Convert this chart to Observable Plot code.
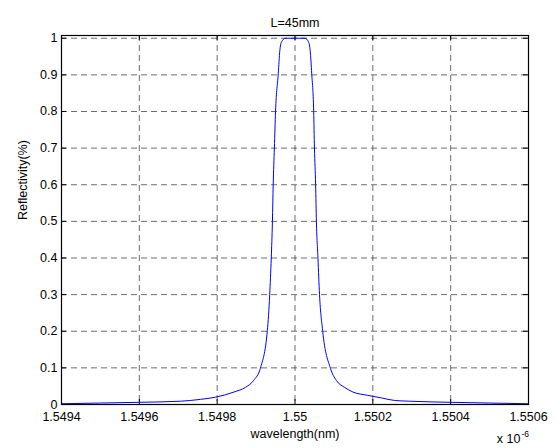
<!DOCTYPE html>
<html>
<head>
<meta charset="utf-8">
<script src="https://cdn.jsdelivr.net/npm/d3@7"></script>
<script src="https://cdn.jsdelivr.net/npm/@observablehq/plot@0.6"></script>
<style>
  html, body { margin: 0; padding: 0; background: #fff; }
  #chart svg { display: block; }
</style>
</head>
<body>
<div id="chart"></div>
<script>
// wavelength in units of 1e-6 m
const wavelength = [
  1.5494, 1.5495, 1.5496, 1.549706, 1.549757, 1.549796, 1.549843,
  1.549873, 1.549894, 1.549911, 1.549929, 1.549935, 1.549939, 1.549942,
  1.549944, 1.549947, 1.54995, 1.549957, 1.549961, 1.549965, 1.549975,
  1.55,
  1.550026, 1.550035, 1.550039, 1.550043, 1.550048, 1.55005, 1.550053,
  1.550055, 1.550059, 1.550063, 1.550071, 1.550091, 1.550106, 1.550127,
  1.550149, 1.550187, 1.550222, 1.550256, 1.550294, 1.5504, 1.5505, 1.5506
];
const reflectivity = [
  0.002, 0.004, 0.006, 0.009, 0.014, 0.020, 0.034,
  0.047, 0.066, 0.099, 0.202, 0.30, 0.40, 0.50,
  0.60, 0.70, 0.80, 0.903, 0.966, 0.989, 1.0,
  1.0,
  1.0, 0.989, 0.966, 0.903, 0.80, 0.70, 0.60,
  0.50, 0.40, 0.30, 0.202, 0.099, 0.066, 0.047,
  0.034, 0.025, 0.018, 0.011, 0.009, 0.006, 0.004, 0.002
];
const xTicks = [1.5494, 1.5496, 1.5498, 1.55, 1.5502, 1.5504, 1.5506];
const yTicks = [0, 0.1, 0.2, 0.3, 0.4, 0.5, 0.6, 0.7, 0.8, 0.9, 1];
const title = "L=45mm";
const xLabel = "wavelength(nm)";
const yLabel = "Reflectivity(%)";
const xExponentBase = "x 10";
const xExponent = "-6";

const W = 558, H = 448;
const mT = 35, mB = 44, mL = 61, mR = 30;
const plotW = W - mL - mR, plotH = H - mT - mB;
const tickLen = 5;
const gridStyle = {stroke: "#333", strokeOpacity: 0.9, strokeWidth: 0.8, strokeDasharray: "6,4"};

const chart = Plot.plot({
  width: W, height: H,
  marginTop: mT, marginBottom: mB, marginLeft: mL, marginRight: mR,
  style: {fontFamily: "'Liberation Sans', Arial, sans-serif", fontSize: "12.5px", background: "#fff"},
  x: {domain: [1.5494, 1.5506]},
  y: {domain: [0, 1.0075]},
  marks: [
    Plot.gridX(xTicks, gridStyle),
    Plot.gridY(yTicks, gridStyle),
    // inward ticks
    Plot.ruleX(xTicks, {x: d => d, insetTop: plotH - tickLen, stroke: "#000"}),
    Plot.ruleX(xTicks, {x: d => d, insetBottom: plotH - tickLen, stroke: "#000"}),
    Plot.ruleY(yTicks, {y: d => d, insetRight: plotW - tickLen, stroke: "#000"}),
    Plot.ruleY(yTicks, {y: d => d, insetLeft: plotW - tickLen, stroke: "#000"}),
    Plot.axisX({ticks: xTicks, tickSize: 0, tickPadding: 8, tickFormat: d => String(+d.toFixed(4)), label: null, fontSize: 12.5}),
    Plot.axisY({ticks: yTicks, tickSize: 0, tickPadding: 4, tickFormat: d => String(+d.toFixed(1)), label: null, fontSize: 12.5}),
    Plot.line({length: wavelength.length}, {x: wavelength, y: reflectivity, stroke: "#0000ff", strokeWidth: 1, curve: "monotone-x"}),
    Plot.frame({stroke: "#000", strokeWidth: 1.2}),
    Plot.text([title], {frameAnchor: "top", dy: -17, fontSize: 12.5}),
    Plot.text([xLabel], {frameAnchor: "bottom", dy: 33, fontSize: 12.5}),
    Plot.text([yLabel], {frameAnchor: "left", dx: -39, rotate: -90, fontSize: 12.5}),
    Plot.text([xExponentBase], {frameAnchor: "bottom-right", dx: -8, dy: 38, textAnchor: "end", fontSize: 12.5}),
    Plot.text([xExponent], {frameAnchor: "bottom-right", dx: -7, dy: 32, textAnchor: "start", fontSize: 8.5})
  ]
});
document.getElementById("chart").appendChild(chart);
</script>
</body>
</html>
